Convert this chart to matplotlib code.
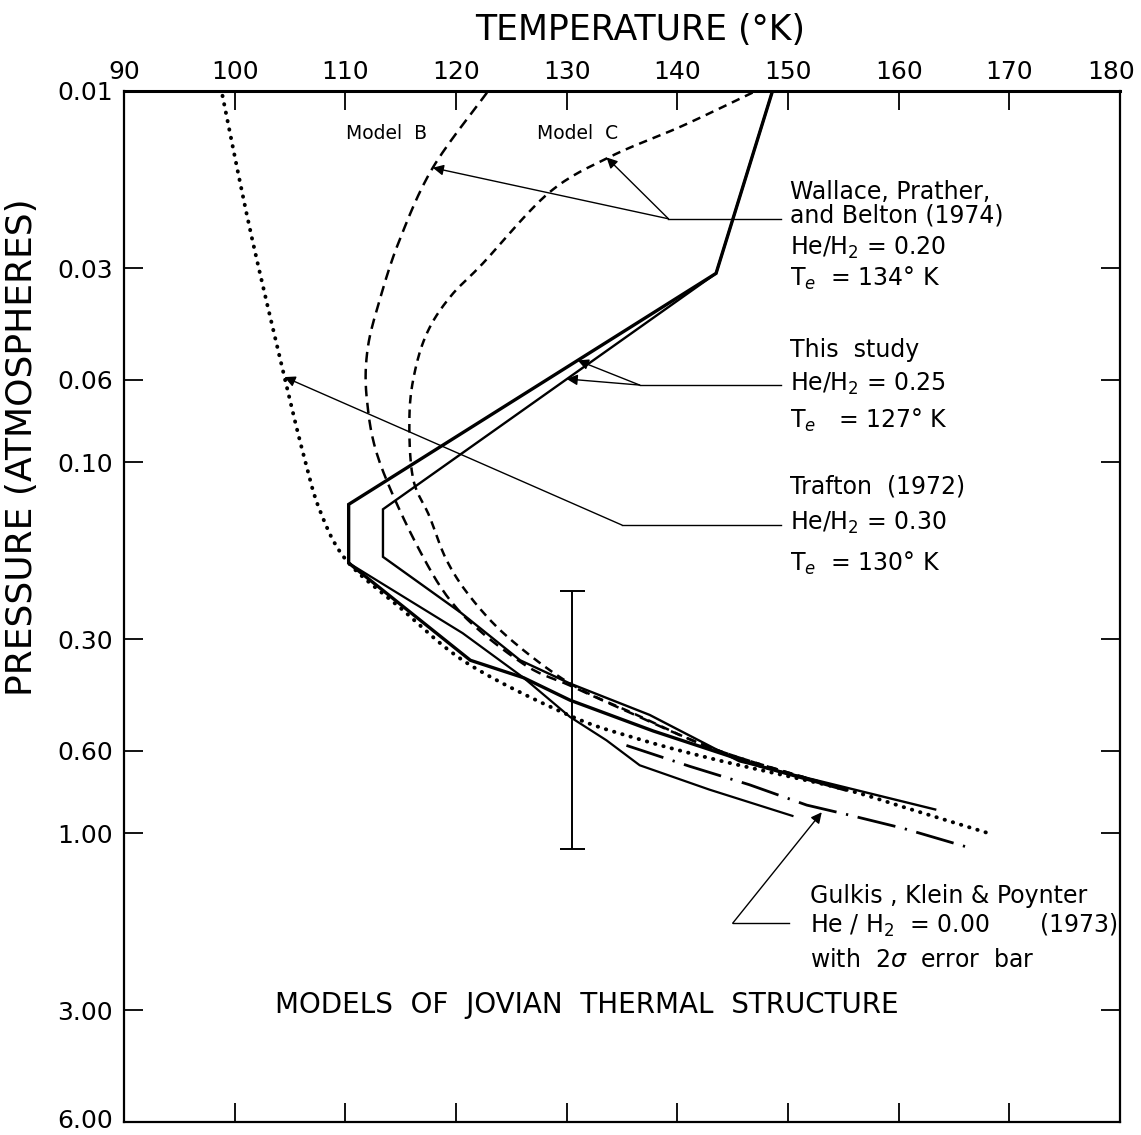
import numpy as np
import matplotlib
matplotlib.use("Agg")
import matplotlib.pyplot as plt
from matplotlib.ticker import FixedLocator, NullLocator, FixedFormatter
from matplotlib.transforms import ScaledTranslation

# values: temperature (K) vs pressure (atm)
study_thick_t = [148.6, 143.5, 110.3, 110.3, 121.3, 126.1, 130.3, 137.8, 147.5, 155.1]
study_thick_p = [0.010, 0.031, 0.130, 0.187, 0.342, 0.381, 0.438, 0.530, 0.660, 0.763]
study_thin_t = [148.6, 143.5, 113.4, 113.4, 120.4, 125.8, 130.3, 137.5, 145.6, 163.3]
study_thin_p = [0.010, 0.031, 0.134, 0.180, 0.254, 0.342, 0.395, 0.480, 0.640, 0.863]
lower_t = [110.3, 120.6, 126.1, 130.3, 133.6, 136.6, 142.9, 150.4]
lower_p = [0.187, 0.289, 0.381, 0.486, 0.562, 0.656, 0.763, 0.898]

model_b_t = [122.8, 117.9, 114.9, 113.1, 112.0, 111.95, 113.1, 116.8, 120.4,
             126.1, 130.3, 134.8, 143.8, 155.1]
model_b_p = [0.0101, 0.0161, 0.0252, 0.0366, 0.0499, 0.0679, 0.100, 0.175, 0.254,
             0.35, 0.40, 0.46, 0.60, 0.76]
model_c_t = [146.8, 140.5, 134.0, 128.4, 122.4, 119.6, 117.6, 116.4, 115.8, 116.1,
             117.6, 119.2, 121.5, 124.9, 130.3, 136.0, 143.8, 155.1]
model_c_p = [0.0101, 0.0124, 0.0150, 0.0188, 0.0292, 0.0355, 0.0435, 0.055, 0.0737, 0.11,
             0.14, 0.185, 0.235, 0.30, 0.395, 0.475, 0.60, 0.76]

trafton_t = [98.9, 101.4, 104.5, 106.2, 107.7, 110.1, 114.9, 121.0, 130.0, 136.0,
             143.8, 154.7, 160.7, 168.5]
trafton_p = [0.0103, 0.0237, 0.059, 0.095, 0.135, 0.184, 0.246, 0.348, 0.478, 0.552,
             0.637, 0.756, 0.855, 1.008]

gulkis_t = [135.4, 141.1, 146.5, 151.7, 155.3, 160.4, 166.2]
gulkis_p = [0.58, 0.66, 0.74, 0.84, 0.89, 0.97, 1.09]

errbar_t = 130.45
errbar_p = 0.495
errbar_lo = 0.2226
errbar_hi = 1.10

temp_ticks = [90, 100, 110, 120, 130, 140, 150, 160, 170, 180]
pres_ticks = [0.01, 0.03, 0.06, 0.10, 0.30, 0.60, 1.00, 3.00, 6.00]
pres_labels = ["0.01", "0.03", "0.06", "0.10", "0.30", "0.60", "1.00", "3.00", "6.00"]

# leaders: (knee, end of horizontal, arrow tips)
wallace_knee, wallace_end = (139.2, 0.0221), (149.4, 0.0221)
wallace_tips = [(117.9, 0.0161), (133.6, 0.0151)]
study_knee, study_end = (136.6, 0.0620), (149.4, 0.0620)
study_tips = [(131.0, 0.0532), (130.0, 0.0597)]
trafton_knee, trafton_end = (135.0, 0.1478), (149.4, 0.1478)
trafton_tips = [(104.5, 0.059)]
gulkis_knee, gulkis_end = (145.0, 1.748), (150.1, 1.748)
gulkis_tips = [(153.05, 0.878)]


def smooth(t, p, n=16):
    # catmull-rom through the read points, in (T, log P) space
    pts = np.column_stack([np.asarray(t, float), np.log10(p)])
    ext = np.vstack([pts[0], pts, pts[-1]])
    out = []
    for i in range(1, len(ext) - 2):
        p0, p1, p2, p3 = ext[i - 1], ext[i], ext[i + 1], ext[i + 2]
        for s in np.linspace(0, 1, n, endpoint=False):
            out.append(0.5 * (2 * p1 + (-p0 + p2) * s
                              + (2 * p0 - 5 * p1 + 4 * p2 - p3) * s ** 2
                              + (-p0 + 3 * p1 - 3 * p2 + p3) * s ** 3))
    out.append(pts[-1])
    out = np.array(out)
    return out[:, 0], 10 ** out[:, 1]


plt.rcParams["font.family"] = ["DejaVu Sans"]
plt.rcParams["mathtext.fontset"] = "dejavusans"

fig = plt.figure(figsize=(11.41, 11.35), dpi=100)
ax = fig.add_axes([124 / 1141, 1 - 1122 / 1135, 996 / 1141, 1031 / 1135])

ax.set_yscale("log")
ax.set_xlim(90, 180)
ax.set_ylim(6.0, 0.01)

k = "black"
ax.plot(study_thick_t, study_thick_p, color=k, lw=2.4, solid_joinstyle="miter")
ax.plot(study_thin_t, study_thin_p, color=k, lw=1.7, solid_joinstyle="miter")
ax.plot(lower_t, lower_p, color=k, lw=1.6)
ax.plot(*smooth(model_b_t, model_b_p), color=k, lw=1.8, dashes=(4.2, 2.6))
ax.plot(*smooth(model_c_t, model_c_p), color=k, lw=1.8, dashes=(3.4, 2.4))
ax.plot(*smooth(trafton_t, trafton_p), color=k, lw=2.8, dashes=(0.1, 2.1),
        dash_capstyle="round")
ax.plot(gulkis_t, gulkis_p, color=k, lw=2.0, dashes=(14, 3.5, 0.8, 3.5))

ax.errorbar([errbar_t], [errbar_p],
            yerr=[[errbar_p - errbar_lo], [errbar_hi - errbar_p]],
            fmt="none", ecolor=k, elinewidth=1.4, capsize=9, capthick=1.4)


def leader(knee, end, tips):
    ax.plot([knee[0], end[0]], [knee[1], end[1]], color=k, lw=1.0)
    for tip in tips:
        ax.annotate("", xy=tip, xytext=knee,
                    arrowprops=dict(arrowstyle="-|>", color=k, lw=1.0,
                                    shrinkA=0, shrinkB=0, mutation_scale=16))


leader(wallace_knee, wallace_end, wallace_tips)
leader(study_knee, study_end, study_tips)
leader(trafton_knee, trafton_end, trafton_tips)
leader(gulkis_knee, gulkis_end, gulkis_tips)

fs = 17
ax.text(113.7, 0.0130, "Model  B", fontsize=13.5, ha="center", va="center")
ax.text(131.0, 0.0130, "Model  C", fontsize=13.5, ha="center", va="center")

tx = 150.2
ax.text(tx, 0.01872, "Wallace, Prather,", fontsize=fs, va="center")
ax.text(tx, 0.0216, "and Belton (1974)", fontsize=fs, va="center")
ax.text(tx, 0.0265, "He/H$_2$ = 0.20", fontsize=fs, va="center")
ax.text(tx, 0.0319, "T$_e$  = 134° K", fontsize=fs, va="center")

ax.text(tx, 0.0499, "This  study", fontsize=fs, va="center")
ax.text(tx, 0.0617, "He/H$_2$ = 0.25", fontsize=fs, va="center")
ax.text(tx, 0.0770, "T$_e$   = 127° K", fontsize=fs, va="center")

ax.text(tx, 0.1166, "Trafton  (1972)", fontsize=fs, va="center")
ax.text(tx, 0.146, "He/H$_2$ = 0.30", fontsize=fs, va="center")
ax.text(tx, 0.187, "T$_e$  = 130° K", fontsize=fs, va="center")

gx = 152.0
ax.text(gx, 1.48, "Gulkis , Klein & Poynter", fontsize=fs, va="center")
ax.text(gx, 1.78, "He / H$_2$  = 0.00", fontsize=fs, va="center")
ax.text(179.8, 1.76, "(1973)", fontsize=fs, va="center", ha="right")
ax.text(gx, 2.19, "with  2$\\sigma$  error  bar", fontsize=fs, va="center")

ax.text(103.6, 2.90, "MODELS  OF  JOVIAN  THERMAL  STRUCTURE", fontsize=20,
        va="center")

# axes, ticks
ax.xaxis.set_major_locator(FixedLocator(temp_ticks))
ax.xaxis.set_minor_locator(NullLocator())
ax.yaxis.set_major_locator(FixedLocator(pres_ticks))
ax.yaxis.set_major_formatter(FixedFormatter(pres_labels))
ax.yaxis.set_minor_locator(NullLocator())
ax.tick_params(axis="both", direction="in", length=14, width=1.3,
               top=True, bottom=True, left=True, right=True,
               labeltop=True, labelbottom=False, labelsize=18)
ax.tick_params(axis="x", pad=5)
ax.tick_params(axis="y", pad=8)
for s in ax.spines.values():
    s.set_linewidth(1.6)
ax.spines["top"].set_linewidth(2.2)

# keep the end labels inside the canvas
fig.canvas.draw()
last_x = ax.xaxis.get_major_ticks()[-1].label2
last_x.set_transform(last_x.get_transform() + ScaledTranslation(-9 / 100, 0, fig.dpi_scale_trans))
last_y = ax.yaxis.get_major_ticks()[-1].label1
last_y.set_transform(last_y.get_transform() + ScaledTranslation(0, 3 / 100, fig.dpi_scale_trans))

fig.text(640 / 1141, 1 - 30 / 1135, "TEMPERATURE (°K)", fontsize=25,
         ha="center", va="center")
fig.text(22 / 1141, 1 - 447 / 1135, "PRESSURE (ATMOSPHERES)", fontsize=26,
         ha="center", va="center", rotation=90)

fig.savefig("out.png", dpi=100)
